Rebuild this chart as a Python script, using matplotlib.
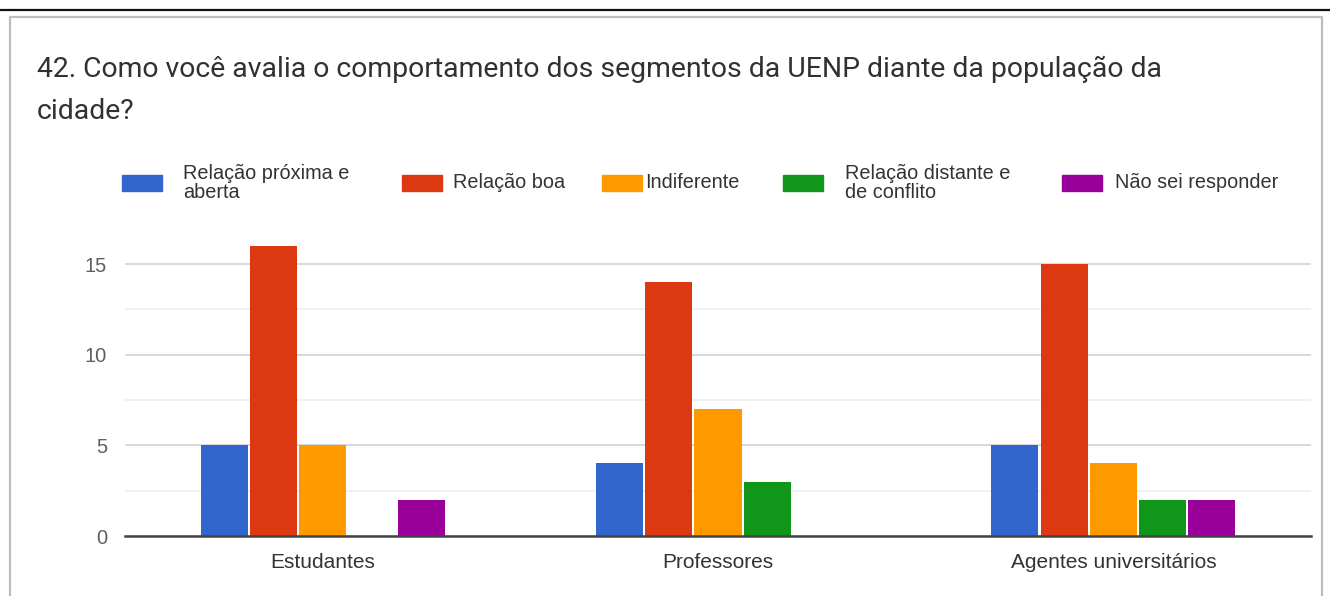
import matplotlib
matplotlib.use("Agg")
import matplotlib.pyplot as plt
from matplotlib.patches import Rectangle
from matplotlib.lines import Line2D
import numpy as np

title = "42. Como você avalia o comportamento dos segmentos da UENP diante da população da\ncidade?"
categories = ["Estudantes", "Professores", "Agentes universitários"]
series_names = ["Relação próxima e\naberta", "Relação boa", "Indiferente",
                "Relação distante e\nde conflito", "Não sei responder"]
values_proxima = [5, 4, 5]
values_boa = [16, 14, 15]
values_indiferente = [5, 7, 4]
values_distante = [0, 3, 2]
values_naosei = [2, 0, 2]
yticks = [0, 5, 10, 15]

series_values = [values_proxima, values_boa, values_indiferente, values_distante, values_naosei]
colors = ["#3366CC", "#DC3912", "#FF9900", "#109618", "#990099"]

W, H = 1330, 596
fig = plt.figure(figsize=(W / 100, H / 100), dpi=100)
fig.patch.set_facecolor("white")

# top black line and grey box border
fig.add_artist(Line2D([0, 1], [1 - 10 / H, 1 - 10 / H], color="#111111", lw=1.6))
fig.add_artist(Line2D([10 / W, 10 / W, 1322 / W, 1322 / W],
                      [0, 1 - 17 / H, 1 - 17 / H, 0], color="#bdbdbd", lw=1.6))

title_baselines = [77, 119]
for line, by in zip(title.split("\n"), title_baselines):
    fig.text(37 / W, 1 - by / H, line, fontsize=20.4, family=["Roboto", "DejaVu Sans"],
             color="#303134", va="baseline", ha="left")

ax = fig.add_axes([125 / W, 1 - 536 / H, (1311 - 125) / W, 17 * 18.13 / H])
x = np.arange(len(categories))
n = len(series_values)
step = 0.1245
bw = 0.119
for i, (vals, c) in enumerate(zip(series_values, colors)):
    ax.bar(x + (i - (n - 1) / 2) * step, vals, width=bw, color=c, zorder=3)

ax.set_xlim(-0.5, len(categories) - 0.5)
ax.set_ylim(0, 17)
ax.set_yticks(yticks)
ax.set_yticks([2.5, 7.5, 12.5], minor=True)
ax.grid(axis="y", which="major", color="#d6d6d6", lw=1.3, zorder=0)
ax.grid(axis="y", which="minor", color="#ececec", lw=1.1, zorder=0)
ax.tick_params(axis="y", which="both", length=0, pad=13, labelsize=14.5, labelcolor="#5f5f5f")
ax.tick_params(axis="x", length=0, pad=12, labelsize=15, labelcolor="#333333")
ax.set_xticks(x)
ax.set_xticklabels(categories, family="Liberation Sans")
for lbl in ax.get_yticklabels():
    lbl.set_family("Liberation Sans")
for s in ["top", "right", "left"]:
    ax.spines[s].set_visible(False)
ax.spines["bottom"].set_color("#444444")
ax.spines["bottom"].set_linewidth(1.8)
ax.spines["bottom"].set_zorder(4)

# legend row
swatch_x = [122, 402, 602, 783, 1062]
text_x = [183, 453, 645, 845, 1115]
ly = 183
for sx, tx, name, c in zip(swatch_x, text_x, series_names, colors):
    fig.add_artist(Rectangle((sx / W, 1 - (ly + 8) / H), 40 / W, 16 / H,
                             color=c, transform=fig.transFigure))
    fig.text(tx / W, 1 - ly / H, name, fontsize=14.3, family="Liberation Sans",
             color="#333333", va="center", ha="left", linespacing=1.05)

fig.savefig("out.png", dpi=100)
